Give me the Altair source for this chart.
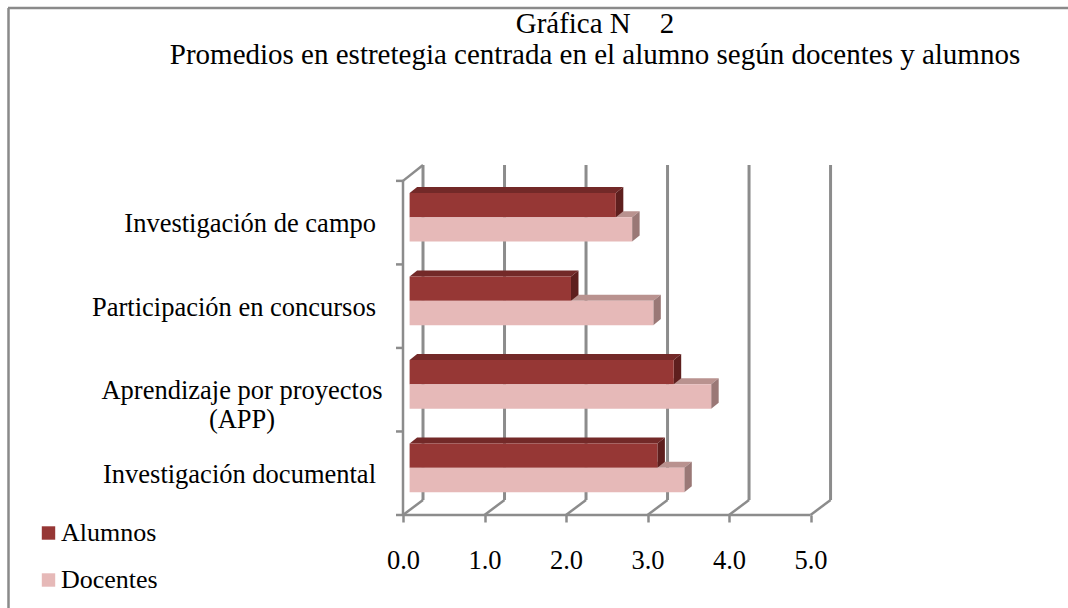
import altair as alt
import pandas as pd

FONT = "Liberation Serif"
NBSP = "\u00a0"

# ---- data ----
categories = [
    "Investigación de campo",
    "Participación en concursos",
    "Aprendizaje por proyectos\n(APP)",
    "Investigación documental",
]
alumnos = [2.53, 1.98, 3.24, 3.04]
docentes = [2.73, 2.99, 3.70, 3.37]
series_names = ["Alumnos", "Docentes"]
x_ticks = [0, 1, 2, 3, 4, 5]
title_lines = ["Gráfica N" + NBSP * 4 + "2",
               "Promedios en estretegia centrada en el alumno según docentes y alumnos"]

# ---- styles / geometry (not data) ----
A_FRONT, A_TOP, A_SIDE = "#963735", "#732928", "#5e1f1e"
D_FRONT, D_TOP, D_SIDE = "#e6b9b8", "#b9928f", "#9a7876"
GRID = "#8c8c8c"
X0 = 0.081                      # bars sit a little behind the front plane
BAND = {"Alumnos": (0.144, 0.435), "Docentes": (0.435, 0.727)}
BDX, BDY = 0.092, -0.072        # bar depth
WDX, WDY = 0.2455, -0.18        # wall / floor depth
Y_TOP = -0.19
N = len(categories)

PAD_L, PAD_T, W, H = 403, 165, 432, 350

# ---- tables built from the arrays ----
rows = []
for i, cat in enumerate(categories):
    for s, vals in (("Alumnos", alumnos), ("Docentes", docentes)):
        ft, fb = BAND[s]
        rows.append(dict(cat=cat, idx=i, series=s, value=vals[i],
                         x0=X0, x1=X0 + vals[i], yt=i + ft, yb=i + fb))
bars = pd.DataFrame(rows)

faces = []
for r in rows:
    pid = f"{r['series']}-{r['idx']}"
    x0, x1, yt, yb = r["x0"], r["x1"], r["yt"], r["yb"]
    for (x, y, y2) in [(x0, yt, yt), (x0 + BDX, yt + BDY, yt),
                       (x1, yt + BDY, yt), (x1 + BDX, yt + BDY, yt + BDY)]:
        faces.append(dict(pid=pid + "-top", series=r["series"], face="top", x=x, y=y, y2=y2))
    for (x, y, y2) in [(x1, yt, yb), (x1 + BDX, yt + BDY, yb + BDY)]:
        faces.append(dict(pid=pid + "-side", series=r["series"], face="side", x=x, y=y, y2=y2))
faces = pd.DataFrame(faces)

back_grid = pd.DataFrame({"x": [k + WDX for k in x_ticks],
                          "y": [Y_TOP] * len(x_ticks),
                          "y2": [N + WDY] * len(x_ticks)})
floor_diag = pd.DataFrame({"x": x_ticks, "y": [N] * len(x_ticks),
                           "x2": [k + WDX for k in x_ticks],
                           "y2": [N + WDY] * len(x_ticks)})
frame_lines = pd.DataFrame({
    "x": [0, 0, 0], "x2": [x_ticks[-1], 0, WDX],
    "y": [N, 0, 0], "y2": [N, N, Y_TOP]})
ytick_df = pd.DataFrame({"y": list(range(N + 1))})
label_df = pd.DataFrame({"cat": categories, "ly": [i + 0.52 for i in range(N)],
                         "multi": ["\n" in c for c in categories]})
title_df = pd.DataFrame({"t": title_lines, "line": list(range(len(title_lines)))})
legend_df = pd.DataFrame({"series": series_names, "row": list(range(len(series_names)))})

xs = alt.Scale(domain=[0, 5.3], nice=False, zero=False)
ys = alt.Scale(domain=[Y_TOP, N], reverse=True, nice=False, zero=False)
color_scale = alt.Scale(domain=series_names, range=[A_FRONT, D_FRONT])
x_axis = alt.Axis(values=x_ticks, format=".1f", title=None, grid=False,
                  domain=False, ticks=True, tickSize=7, tickWidth=2.5,
                  tickColor=GRID, labelFont=FONT, labelFontSize=26.5,
                  labelColor="black", labelPadding=25, labelFlush=False,
                  labelOverlap=False)


def X(f):
    return alt.X(f, scale=xs, axis=x_axis)


def Y(f):
    return alt.Y(f, scale=ys, axis=None, stack=None)


grid_layer = alt.Chart(back_grid).mark_rule(color=GRID, strokeWidth=3).encode(
    x=X("x:Q"), y=Y("y:Q"), y2="y2:Q")
diag_layer = alt.Chart(floor_diag).mark_rule(color=GRID, strokeWidth=2.5).encode(
    x=X("x:Q"), x2="x2:Q", y=Y("y:Q"), y2="y2:Q")
frame_layer = alt.Chart(frame_lines).mark_rule(color=GRID, strokeWidth=2.5).encode(
    x=X("x:Q"), x2="x2:Q", y=Y("y:Q"), y2="y2:Q")
ytick_layer = alt.Chart(ytick_df).mark_rule(color=GRID, strokeWidth=2.5).encode(
    x=alt.value(-7), x2=alt.value(0), y=Y("y:Q"))


def face_layer(series, face, color):
    return alt.Chart(faces).transform_filter(
        (alt.datum.series == series) & (alt.datum.face == face)
    ).mark_area(orient="vertical", color=color, interpolate="linear").encode(
        x=X("x:Q"), y=Y("y:Q"), y2="y2:Q", detail="pid:N")


front_layer = alt.Chart(bars).mark_rect().encode(
    x=X("x0:Q"),
    x2="x1:Q",
    y=Y("yt:Q"), y2="yb:Q",
    color=alt.Color("series:N", scale=color_scale, legend=None),
    tooltip=["cat:N", "series:N", "value:Q"])

label_single = alt.Chart(label_df).transform_filter(~alt.datum.multi).mark_text(
    align="right", baseline="middle", font=FONT, fontSize=26.5, color="black"
).encode(x=alt.value(-27), y=Y("ly:Q"), text="cat:N")
label_multi = alt.Chart(label_df).transform_filter(alt.datum.multi).mark_text(
    align="center", baseline="middle", font=FONT, fontSize=26.5, color="black",
    lineBreak="\n", lineHeight=29
).encode(x=alt.value(-161), y=Y("ly:Q"), text="cat:N")

title_layer = alt.Chart(title_df).mark_text(
    align="center", baseline="middle", font=FONT, fontSize=29, color="black"
).encode(
    x=alt.value(595 - PAD_L),
    y=alt.Y("line:Q", scale=alt.Scale(domain=[0, 1], range=[24 - PAD_T, 55 - PAD_T]),
            axis=None),
    text="t:N")

legend_y = alt.Y("row:Q", scale=alt.Scale(domain=[0, 1], range=[533 - PAD_T, 580 - PAD_T]),
                 axis=None)
legend_sym = alt.Chart(legend_df).mark_square(size=180, opacity=1).encode(
    x=alt.value(48.5 - PAD_L), y=legend_y,
    color=alt.Color("series:N", scale=color_scale, legend=None))
legend_txt = alt.Chart(legend_df).mark_text(
    align="left", baseline="middle", font=FONT, fontSize=26, color="black"
).encode(x=alt.value(61 - PAD_L), y=legend_y, text="series:N")

border = alt.Chart(pd.DataFrame({"k": [0]})).mark_rule(color="#8a8a8a", strokeWidth=2.5)
border_top = border.encode(x=alt.value(8 - PAD_L), x2=alt.value(1068 - PAD_L),
                           y=alt.value(8 - PAD_T))
border_left = border.encode(x=alt.value(8.5 - PAD_L), y=alt.value(8 - PAD_T),
                            y2=alt.value(620 - PAD_T))

chart = alt.layer(
    border_top, border_left,
    grid_layer, diag_layer, frame_layer, ytick_layer,
    face_layer("Docentes", "top", D_TOP), face_layer("Docentes", "side", D_SIDE),
    face_layer("Alumnos", "top", A_TOP), face_layer("Alumnos", "side", A_SIDE),
    front_layer, label_single, label_multi, title_layer, legend_sym, legend_txt,
).resolve_scale(y="independent").properties(
    width=W, height=H,
    autosize=alt.AutoSizeParams(type="none"),
    padding={"left": PAD_L, "top": PAD_T, "right": 1068 - PAD_L - W,
             "bottom": 608 - PAD_T - H},
).configure(
    background="white", view=alt.ViewConfig(stroke=None)
).configure_axis(labelFont=FONT)

chart.save("out.html", embed_options={"renderer": "svg", "actions": False})
